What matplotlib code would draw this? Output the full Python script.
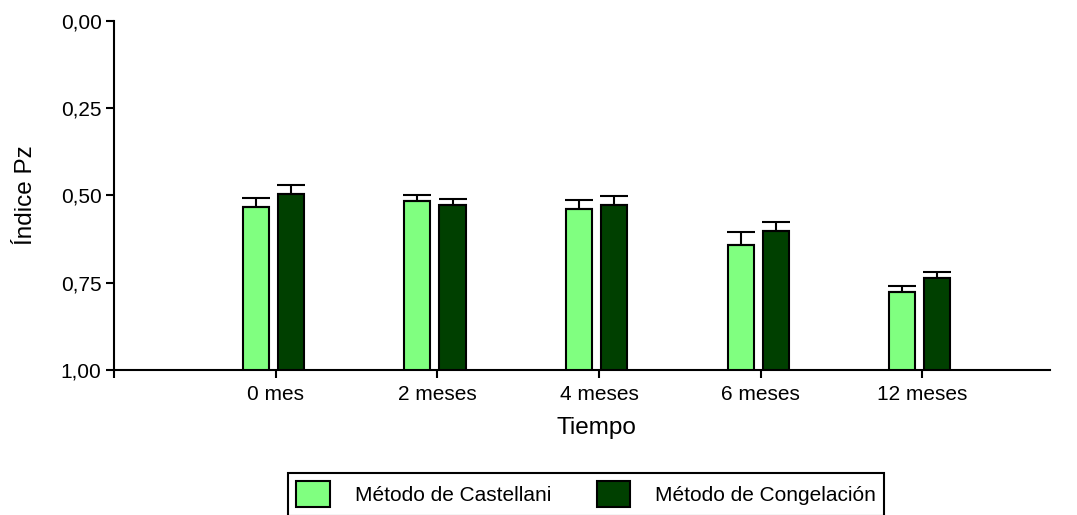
import matplotlib
matplotlib.use('Agg')
import matplotlib.pyplot as plt
import numpy as np

plt.rcParams['font.family'] = ['Liberation Sans', 'DejaVu Sans']

tiempos = ['0 mes', '2 meses', '4 meses', '6 meses', '12 meses']
castellani = [0.534, 0.517, 0.540, 0.641, 0.778]
castellani_err = [0.025, 0.019, 0.026, 0.035, 0.019]
congelacion = [0.495, 0.527, 0.528, 0.601, 0.738]
congelacion_err = [0.026, 0.017, 0.025, 0.024, 0.019]
yticks = [0.0, 0.25, 0.5, 0.75, 1.0]

FS = 15
verde_claro = '#80ff80'
verde_oscuro = '#004000'

fig = plt.figure(figsize=(10.77, 5.15), dpi=100)
ax = fig.add_axes([114 / 1077, 1 - 370 / 515, 936 / 1077, 349.3 / 515])

x = np.arange(len(tiempos))
w = 0.161

c = np.array(castellani)
g = np.array(congelacion)
# las barras parten de 1,00 (eje invertido)
ax.bar(x - 0.123, c - 1.0, bottom=1.0, width=w, color=verde_claro,
       edgecolor='black', linewidth=1.5, label='Método de Castellani', zorder=3)
ax.bar(x + 0.094, g - 1.0, bottom=1.0, width=w, color=verde_oscuro,
       edgecolor='black', linewidth=1.5, label='Método de Congelación', zorder=3)

z = np.zeros(len(tiempos))
ax.errorbar(x - 0.123, c, yerr=[castellani_err, z], fmt='none', ecolor='black',
            elinewidth=1.5, capsize=10, capthick=1.5, zorder=4)
ax.errorbar(x + 0.094, g, yerr=[congelacion_err, z], fmt='none', ecolor='black',
            elinewidth=1.5, capsize=10, capthick=1.5, zorder=4)

ax.set_xlim(-1.0, 4.79)
ax.set_ylim(1.0, 0.0)
ax.set_yticks(yticks)
ax.set_yticklabels([f'{v:.2f}'.replace('.', ',') for v in yticks])
ax.set_xticks(x)
ax.set_xticklabels(tiempos)
ax.set_xticks([-1.0], minor=True)

for s in ['top', 'right']:
    ax.spines[s].set_visible(False)
for s in ['left', 'bottom']:
    ax.spines[s].set_linewidth(1.5)

ax.tick_params(axis='both', which='both', direction='out', length=6, width=1.5,
               labelsize=FS, color='black')
ax.tick_params(axis='y', pad=3)
ax.tick_params(axis='x', pad=5)

ax.set_ylabel('Índice Pz', fontsize=17.5)
ax.yaxis.set_label_coords(-0.082, 0.5)
ax.set_xlabel('Tiempo', fontsize=17.5)
ax.xaxis.set_label_coords(0.515, -0.135)

leg = ax.legend(loc='upper left', bbox_to_anchor=(288 / 1077, 1 - 473 / 515),
                bbox_transform=fig.transFigure, borderaxespad=0, ncol=2,
                fontsize=FS, fancybox=False, framealpha=1, edgecolor='black',
                handlelength=1.6, handleheight=1.55, handletextpad=1.2,
                columnspacing=2.2, borderpad=0.4)
leg.get_frame().set_linewidth(1.5)

fig.savefig('out.png', dpi=100)
